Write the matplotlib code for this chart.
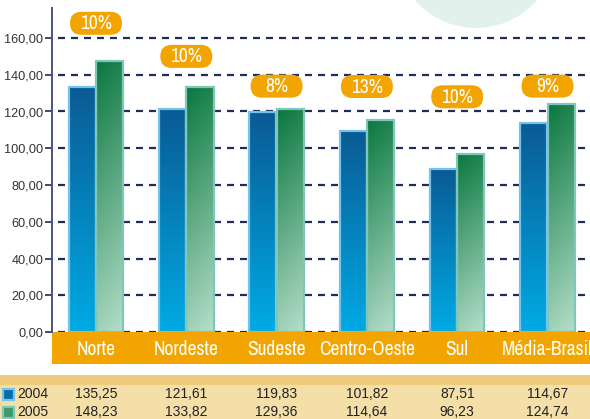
import matplotlib
matplotlib.use('Agg')
import matplotlib.pyplot as plt
import numpy as np
from matplotlib import font_manager
from matplotlib.colors import to_rgb
from matplotlib.patches import Rectangle, FancyBboxPatch, Ellipse
from matplotlib.transforms import blended_transform_factory

regions = ['Norte', 'Nordeste', 'Sudeste', 'Centro-Oeste', 'Sul', 'Média-Brasil']
growth = ['10%', '10%', '8%', '13%', '10%', '9%']
# values printed in the table under the chart
table_2004 = [135.25, 121.61, 119.83, 101.82, 87.51, 114.67]
table_2005 = [148.23, 133.82, 129.36, 114.64, 96.23, 124.74]
# bar heights as drawn in the picture (two bars do not follow the table)
bar_2004 = [133.5, 121.3, 119.6, 109.5, 88.8, 113.8]
bar_2005 = [147.5, 133.4, 121.3, 115.5, 97.0, 124.2]
yticks = [0, 20, 40, 60, 80, 100, 120, 140, 160]

# layout (pixels of a 590x419 canvas, dpi 100)
W, H = 590, 419
label_y = [168.0, 150.0, 133.8, 133.6, 128.0, 133.8]
plt.rcParams['font.family'] = ['Liberation Sans', 'DejaVu Sans']
plt.rcParams['lines.scale_dashes'] = False

# find a narrow face for the white labels
fonts = [(f.name, f.stretch) for f in font_manager.fontManager.ttflist]
NARROW = dict(family=['DejaVu Sans'], fontstretch='normal')
NARROW_SIZE = 12
for name, stretch in fonts:
  if 'Narrow' in name or 'Condensed' in name:
    NARROW = dict(family=[name, 'DejaVu Sans'])
    NARROW_SIZE = 14
    break
else:
  for name, stretch in fonts:
    if name == 'DejaVu Sans' and stretch in ('condensed', 'semi-condensed', 500 - 100):
      NARROW = dict(family=['DejaVu Sans'], fontstretch='condensed')
      NARROW_SIZE = 13
      break

NAVY = '#1e2d5a'
ORANGE = '#f2a500'


def fmt(v):
  return f'{v:.2f}'.replace('.', ',')


def grad_bar(ax, x, h, w, c_top, c_bot, edge, diag=0.0):
  n = 64
  yy, xx = np.mgrid[0:1:n * 1j, 0:1:8j]
  t = np.clip((1 - yy) * (1 - diag) + xx * diag, 0, 1)[..., None]
  img = np.array(to_rgb(c_bot)) * t + np.array(to_rgb(c_top)) * (1 - t)
  ax.imshow(img, extent=[x - w / 2, x + w / 2, 0, h], origin='lower',
            aspect='auto', interpolation='bilinear', zorder=2)
  ax.add_patch(Rectangle((x - w / 2, 0), w, h, facecolor='none',
                         edgecolor=edge, lw=1.6, zorder=3))


fig = plt.figure(figsize=(W / 100, H / 100), dpi=100)
fig.patch.set_facecolor('white')

# decorative circle top right
r = 81
fig.patches.append(Ellipse((476 / W, 1 + 53 / H), 2 * r / W, 2 * r / H,
                           transform=fig.transFigure, facecolor='#e3f1ec',
                           edgecolor='none', zorder=-2))

ax_left, ax_bot, ax_top = 51.5, 332, 8
ax = fig.add_axes([ax_left / W, (H - ax_bot) / H, 1 - ax_left / W, (ax_bot - ax_top) / H])
ax.set_facecolor('none')

x = np.arange(len(regions))
w = 0.30
for i in x:
  grad_bar(ax, i - 0.152, bar_2004[i], w, '#0a5b94', '#00aae4', '#74c3ec')
  grad_bar(ax, i + 0.152, bar_2005[i], w, '#0b7840', '#b4dec9', '#80c6ba', diag=0.12)

for v in yticks:
  ax.axhline(v, color=NAVY, lw=1.6, ls=(7 * 0.72, (7 * 0.72, 6 * 0.72)), zorder=1)

xpx = 90.3
ax.set_xlim((ax_left - 96) / xpx, (W - 96) / xpx)
ypx = (ax_bot - 38) / 160
ax.set_ylim(0, (ax_bot - ax_top) / ypx)

# growth pills
bw, bh = 52 / xpx, 23 / ypx
for i, (g, ly) in enumerate(zip(growth, label_y)):
  ax.add_patch(FancyBboxPatch((i - bw / 2, ly - bh / 2), bw, bh,
                              boxstyle=f'round,pad=0,rounding_size={11.4 / xpx}',
                              mutation_aspect=xpx / ypx, facecolor=ORANGE,
                              edgecolor='none', zorder=4, clip_on=False))
  ax.text(i, ly - 0.3, g, ha='center', va='center', color='white',
          fontsize=NARROW_SIZE, zorder=5, **NARROW)

for s in ['top', 'right', 'bottom']:
  ax.spines[s].set_visible(False)
ax.spines['left'].set_color('#44557f')
ax.spines['left'].set_linewidth(1.4)
ax.set_xticks([])
ax.set_yticks(yticks)
ax.set_yticklabels([fmt(v) for v in yticks])
ax.tick_params(axis='y', length=5, width=1.2, color=NAVY, pad=1,
               labelsize=9.2, labelcolor='#333333')

# orange category band
fig.patches.append(Rectangle((ax_left / W, (H - 364) / H), 1 - ax_left / W, 32 / H,
                             transform=fig.transFigure, facecolor=ORANGE,
                             edgecolor='none', zorder=-1))
bt = blended_transform_factory(ax.transData, fig.transFigure)
for i, name in enumerate(regions):
  ax.text(i, (H - 349) / H, name, transform=bt, ha='center', va='center',
          color='white', fontsize=NARROW_SIZE, clip_on=False, **NARROW)

# table band
fig.patches.append(Rectangle((0, 0), 1, (H - 375) / H, transform=fig.transFigure,
                             facecolor='#f4dfa8', edgecolor='none', zorder=-1))
fig.patches.append(Rectangle((0, (H - 385) / H), 1, 10 / H, transform=fig.transFigure,
                             facecolor='#efcb7e', edgecolor='none', zorder=-1))

rows = [('2004', table_2004, '#0a6aa6', '#74c3ec', 394),
        ('2005', table_2005, '#3f9a6a', '#80c6ba', 412)]
for label, vals, fc, ec, ypix in rows:
  fig.patches.append(Rectangle((2.5 / W, (H - ypix - 5.5) / H), 11 / W, 11 / H,
                               transform=fig.transFigure, facecolor=fc,
                               edgecolor=ec, lw=1.6, zorder=-1))
  fig.text(17 / W, (H - ypix) / H, label, ha='left', va='center',
           fontsize=10, color='#222222')
  for i, v in enumerate(vals):
    ax.text(i, (H - ypix) / H, fmt(v), transform=bt, ha='center', va='center',
            fontsize=10, color='#222222', clip_on=False)

fig.savefig('out.png', dpi=100)
